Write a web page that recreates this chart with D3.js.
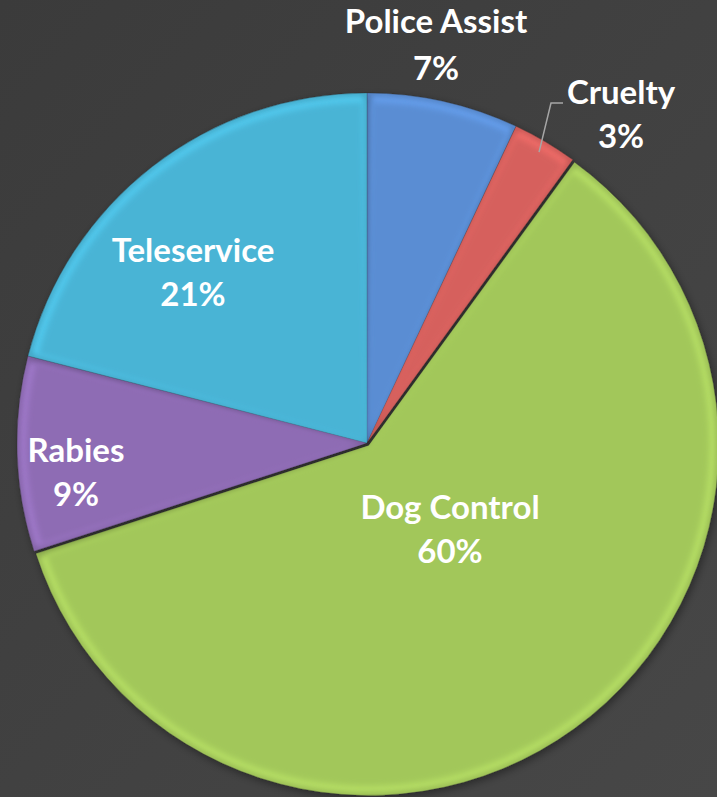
<!DOCTYPE html>
<html><head><meta charset="utf-8">
<script src="https://cdn.jsdelivr.net/npm/d3@7"></script>
<style>html,body{margin:0;padding:0;background:#404040;overflow:hidden}</style>
</head><body>
<svg id="chart" width="717" height="797"></svg>
<script>
const categories = ["Police Assist", "Cruelty", "Dog Control", "Rabies", "Teleservice"];
const values = [7, 3, 60, 9, 21];
const colors = ["#5a8dd3", "#d6605d", "#a2c75a", "#8e6cb4", "#48b4d5"];
const labelText = ["Police Assist", "Cruelty", "Dog Control", "Rabies", "Teleservice"];

const W = 717, H = 797;
const cx = 367, cy = 443, R = 350;
const svg = d3.select("#chart");
const defs = svg.append("defs");

const bg = defs.append("linearGradient").attr("id","bg").attr("x1","0").attr("y1","0").attr("x2","1").attr("y2","1");
bg.append("stop").attr("offset","0").attr("stop-color","#3b3b3b");
bg.append("stop").attr("offset","1").attr("stop-color","#474747");
svg.append("rect").attr("width",W).attr("height",H).attr("fill","url(#bg)");

const f = defs.append("filter").attr("id","blur").attr("x","-0.1").attr("y","-0.1").attr("width","1.2").attr("height","1.2");
f.append("feGaussianBlur").attr("stdDeviation", 3);
const sh = defs.append("filter").attr("id","shadow").attr("x","-0.2").attr("y","-0.2").attr("width","1.4").attr("height","1.4");
sh.append("feGaussianBlur").attr("in","SourceAlpha").attr("stdDeviation",4);
sh.append("feOffset").attr("dx",2).attr("dy",3).attr("result","o");
sh.append("feComponentTransfer").append("feFuncA").attr("type","linear").attr("slope",0.4);
const mg = sh.append("feMerge"); mg.append("feMergeNode"); mg.append("feMergeNode").attr("in","SourceGraphic");

const pie = d3.pie().sort(null).value(d => d).startAngle(0).endAngle(2*Math.PI);
const arcs = pie(values);
const arc = d3.arc().innerRadius(0).outerRadius(R);
const inner = d3.arc().innerRadius(0).outerRadius(R - 9);

const g = svg.append("g").attr("transform", `translate(${cx},${cy})`);
const explode = [0, 0, 3, 0, 0];

arcs.forEach((a, i) => {
  const mid = (a.startAngle + a.endAngle) / 2;
  const ox = Math.sin(mid) * explode[i], oy = -Math.cos(mid) * explode[i];
  const sg = g.append("g").attr("transform", `translate(${ox},${oy})`);
  const clipId = "clip" + i;
  defs.append("clipPath").attr("id", clipId).append("path").attr("d", arc(a)).attr("transform", `translate(${cx+ox},${cy+oy})`);
  const base = d3.color(colors[i]);
  sg.append("path").attr("d", arc(a)).attr("fill", base.brighter(0.35)).attr("filter","url(#shadow)");
  const cg = svg.append("g").attr("clip-path", `url(#${clipId})`)
    .append("g").attr("transform", `translate(${cx+ox},${cy+oy})`);
  cg.append("path").attr("d", arc(a)).attr("fill", "none")
    .attr("stroke", base.darker(0.6)).attr("stroke-width", 4).attr("filter","url(#blur)");
  cg.append("path").attr("d", inner({startAngle: a.startAngle + 0.012, endAngle: a.endAngle - 0.012, padAngle: 0}))
    .attr("fill", colors[i]).attr("filter","url(#blur)");
  sg.append("path").attr("d", arc(a)).attr("fill","none").attr("stroke","rgba(40,40,40,0.45)").attr("stroke-width",1);
});

// label positions
const labelPos = [
  {x: 436, y1: 33, y2: 80},
  {x: 621, y1: 104, y2: 148},
  {x: 450, y1: 519, y2: 563},
  {x: 76, y1: 462, y2: 506},
  {x: 193, y1: 262, y2: 306}
];
const lab = svg.append("g").attr("font-family", "Lato, 'Open Sans', sans-serif").attr("font-weight", "bold")
  .attr("font-size", 33).attr("fill", "#ffffff").attr("text-anchor", "middle");
arcs.forEach((a, i) => {
  const p = labelPos[i];
  lab.append("text").attr("x", p.x).attr("y", p.y1).text(labelText[i]);
  lab.append("text").attr("x", p.x).attr("y", p.y2).text(values[i] + "%");
});

// leader line for Cruelty
const cr = arcs[1];
const crMid = (cr.startAngle + cr.endAngle) / 2;
const sx = cx + Math.sin(crMid) * (R - 12), sy = cy - Math.cos(crMid) * (R - 12);
svg.append("path").attr("d", `M${sx},${sy}L551,103L563,103`).attr("fill","none")
  .attr("stroke","#a6a6a6").attr("stroke-width",1.5);
</script>
</body></html>
